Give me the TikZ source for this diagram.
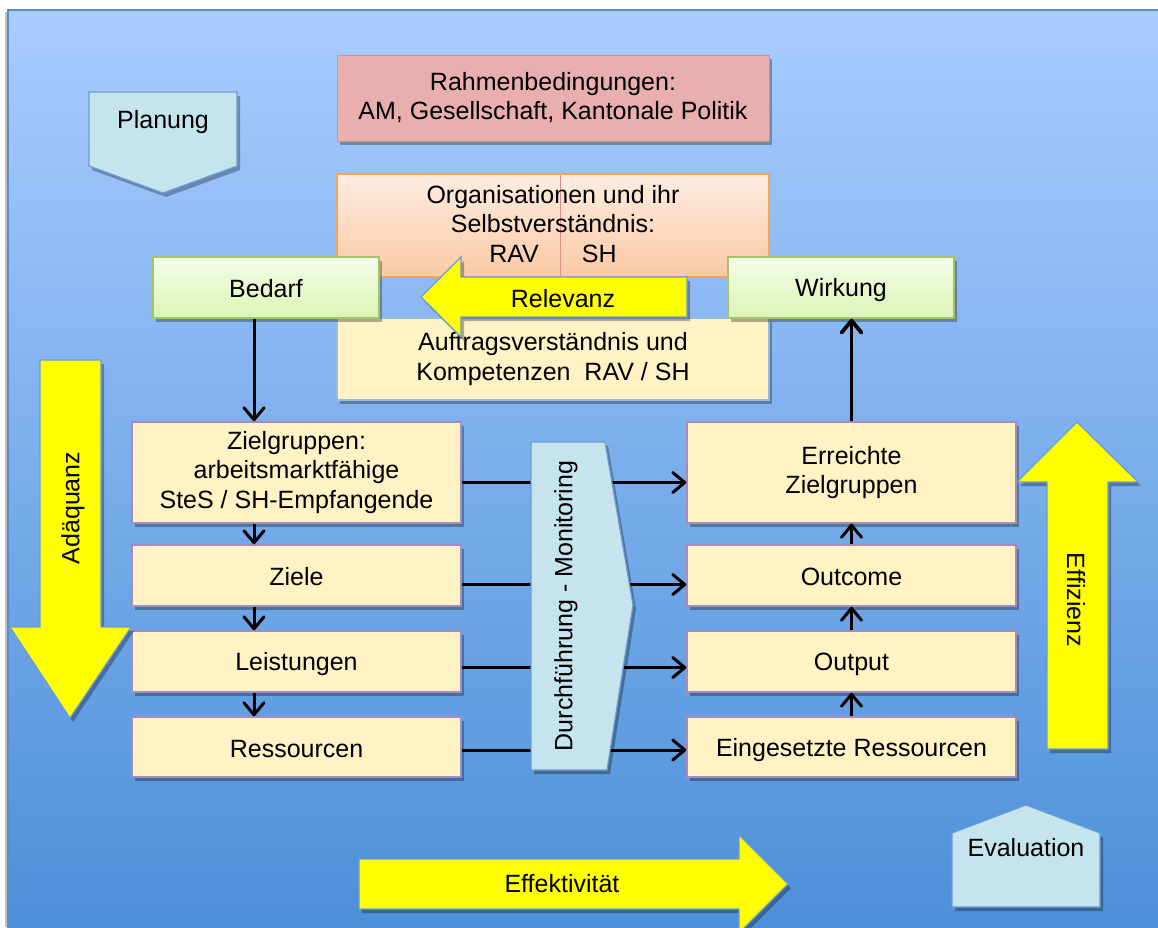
\documentclass[tikz,border=0pt]{standalone}
\usepackage{fontspec}
\setmainfont{Liberation Sans}
\usetikzlibrary{arrows.meta,calc,shadows}
\definecolor{BgTopClr}{HTML}{A9CCFF}
\definecolor{BgBotClr}{HTML}{4B8FD8}
\definecolor{BgLineClr}{HTML}{5C8DCB}
\definecolor{BoxClr}{HTML}{FFF2C4}
\definecolor{BoxLineClr}{HTML}{A58BC0}
\definecolor{GreenTopClr}{HTML}{F4FCEA}
\definecolor{GreenBotClr}{HTML}{DCF4B4}
\definecolor{GreenLineClr}{HTML}{A5C467}
\definecolor{PeachTopClr}{HTML}{FDEDE2}
\definecolor{PeachBotClr}{HTML}{FBC9A4}
\definecolor{PeachLineClr}{HTML}{F4A55C}
\definecolor{SplitClr}{HTML}{E0908A}
\definecolor{RoseClr}{HTML}{E9AEAE}
\definecolor{RoseLineClr}{HTML}{C89494}
\definecolor{PaleClr}{HTML}{C6E4EE}
\definecolor{PaleLineClr}{HTML}{6B9CD2}
\definecolor{ArrowClr}{HTML}{FFFF00}
\newcommand{\boxstrut}{\rule[-4pt]{0pt}{28pt}}

\begin{document}
\begin{tikzpicture}[x=1pt,y=-1pt,font=\fontsize{25}{29.5}\selectfont,
  castshadow/.style={drop shadow={shadow xshift=3pt,shadow yshift=-4pt,opacity=.3,fill=black}},
  evenline/.style={execute at begin node=\boxstrut,execute at end node=\boxstrut},
  box/.style={draw=BoxLineClr,line width=1.5pt,fill=BoxClr,minimum width=329pt,inner sep=0pt,align=center,
    evenline,castshadow},
  greenbox/.style={draw=GreenLineClr,line width=1.5pt,top color=GreenTopClr,bottom color=GreenBotClr,
    minimum width=226pt,minimum height=61pt,evenline,castshadow},
  pale/.style={draw=PaleLineClr,line width=1.2pt,fill=PaleClr,castshadow},
  block/.style={draw=PaleLineClr,line width=1.2pt,fill=ArrowClr,castshadow},
  flow/.style={line width=3pt,-{Straight Barb[length=12pt,width=20pt,round]}}]
\useasboundingbox (0,0) rectangle (1158,927);

% background
\fill[black!25] (5,12) rectangle (8,927);
\draw[BgLineClr,line width=1.5pt,top color=BgTopClr,bottom color=BgBotClr] (8,10) rectangle (1170,940);

% top blocks
\node[draw=RoseLineClr,line width=1pt,fill=RoseClr,minimum width=432pt,minimum height=86pt,
  align=center,evenline,castshadow] (rahmen) at (553,98) {Rahmenbedingungen:\\AM, Gesellschaft, Kantonale Politik};
\node[box,draw=PaleLineClr!70,minimum width=432pt,minimum height=82pt] (auftrag) at (553,359)
  {Auftragsverst\"andnis und\\Kompetenzen\ \ RAV / SH};
\node[draw=PeachLineClr,line width=1.5pt,top color=PeachTopClr,bottom color=PeachBotClr,
  minimum width=432pt,minimum height=103pt,align=center,evenline,
  path picture={\draw[SplitClr,line width=1pt] ([xshift=7pt]path picture bounding box.north)
    -- ([xshift=7pt]path picture bounding box.south);}] (org) at (553,225.5)
  {Organisationen und ihr\\Selbstverst\"andnis:\\RAV\hspace{43pt}SH};

\draw[block] (687,277) -- (461,277) -- (461,257) -- (421,297) -- (461,337) -- (461,317) -- (687,317) -- cycle;
\node[evenline] (relevanz) at (563,297) {Relevanz};

\node[greenbox] (bedarf) at (266,287.5) {Bedarf};
\node[greenbox] (wirkung) at (841,287.5) {Wirkung};

% Planung / Evaluation
\draw[pale] (89,92) -- (237,92) -- (237,166) -- (163,193) -- (89,166) -- cycle;
\node[evenline] (planung) at (163,119) {Planung};
\draw[pale] (952,907) -- (1100,907) -- (1100,833) -- (1026,805) -- (952,833) -- cycle;
\node[evenline] (evaluation) at (1026,846) {Evaluation};

% left column
\node[box,minimum height=101pt] (zg) at (296.5,472.5) {Zielgruppen:\\arbeitsmarktf\"ahige\\SteS / SH-Empfangende};
\node[box,minimum height=61pt] (ziele) at (296.5,575.5) {Ziele};
\node[box,minimum height=61pt] (leist) at (296.5,661.5) {Leistungen};
\node[box,minimum height=60pt] (ress) at (296.5,747) {Ressourcen};

% right column
\node[box,minimum height=101pt] (erreicht) at (851.5,472.5) {Erreichte\\Zielgruppen};
\node[box,minimum height=61pt] (outcome) at (851.5,575.5) {Outcome};
\node[box,minimum height=61pt] (output) at (851.5,661.5) {Output};
\node[box,minimum height=60pt] (einsatz) at (851.5,747) {Eingesetzte Ressourcen};

\coordinate (lx) at (254,0);
\draw[flow] (bedarf.south -| lx) -- (zg.north -| lx);
\draw[flow] (zg.south -| lx) -- (ziele.north -| lx);
\draw[flow] (ziele.south -| lx) -- (leist.north -| lx);
\draw[flow] (leist.south -| lx) -- (ress.north -| lx);

\draw[flow] (einsatz) -- (output);
\draw[flow] (output.north) -- (outcome.south);
\draw[flow] (outcome.north) -- (erreicht.south);
\draw[flow,line width=3.8pt] (erreicht.north) -- (erreicht.north |- wirkung.south);

\draw[flow] ([yshift=-10pt]zg.east) -- ([yshift=-10pt]erreicht.west);
\draw[flow] ([yshift=-9pt]ziele.east) -- ([yshift=-9pt]outcome.west);
\draw[flow] ([yshift=-6pt]leist.east) -- ([yshift=-6pt]output.west);
\draw[flow] ([yshift=-3pt]ress.east) -- ([yshift=-3pt]einsatz.west);

% Durchfuehrung
\draw[pale] (531,442) -- (605,442) -- (633,605) -- (607,770) -- (531,770) -- cycle;
\node[rotate=90,evenline] (monitor) at (563,606) {Durchf\"uhrung - Monitoring};

% big arrows
\draw[block] (40,360) -- (101,360) -- (101,627) -- (131,627) -- (70,718) -- (10,627) -- (40,627) -- cycle;
\node[rotate=90,evenline] (adaequanz) at (70,508) {Ad\"aquanz};
\draw[block] (1047,749) -- (1047,482) -- (1017,482) -- (1077,422) -- (1138,482) -- (1108,482) -- (1108,749) -- cycle;
\node[rotate=-90,evenline] (effizienz) at (1077,600) {Effizienz};
\draw[block] (359,859) -- (739,859) -- (739,835) -- (788,884) -- (739,933) -- (739,909) -- (359,909) -- cycle;
\node[evenline] (effekt) at (562,882) {Effektivit\"at};
\end{tikzpicture}
\end{document}
